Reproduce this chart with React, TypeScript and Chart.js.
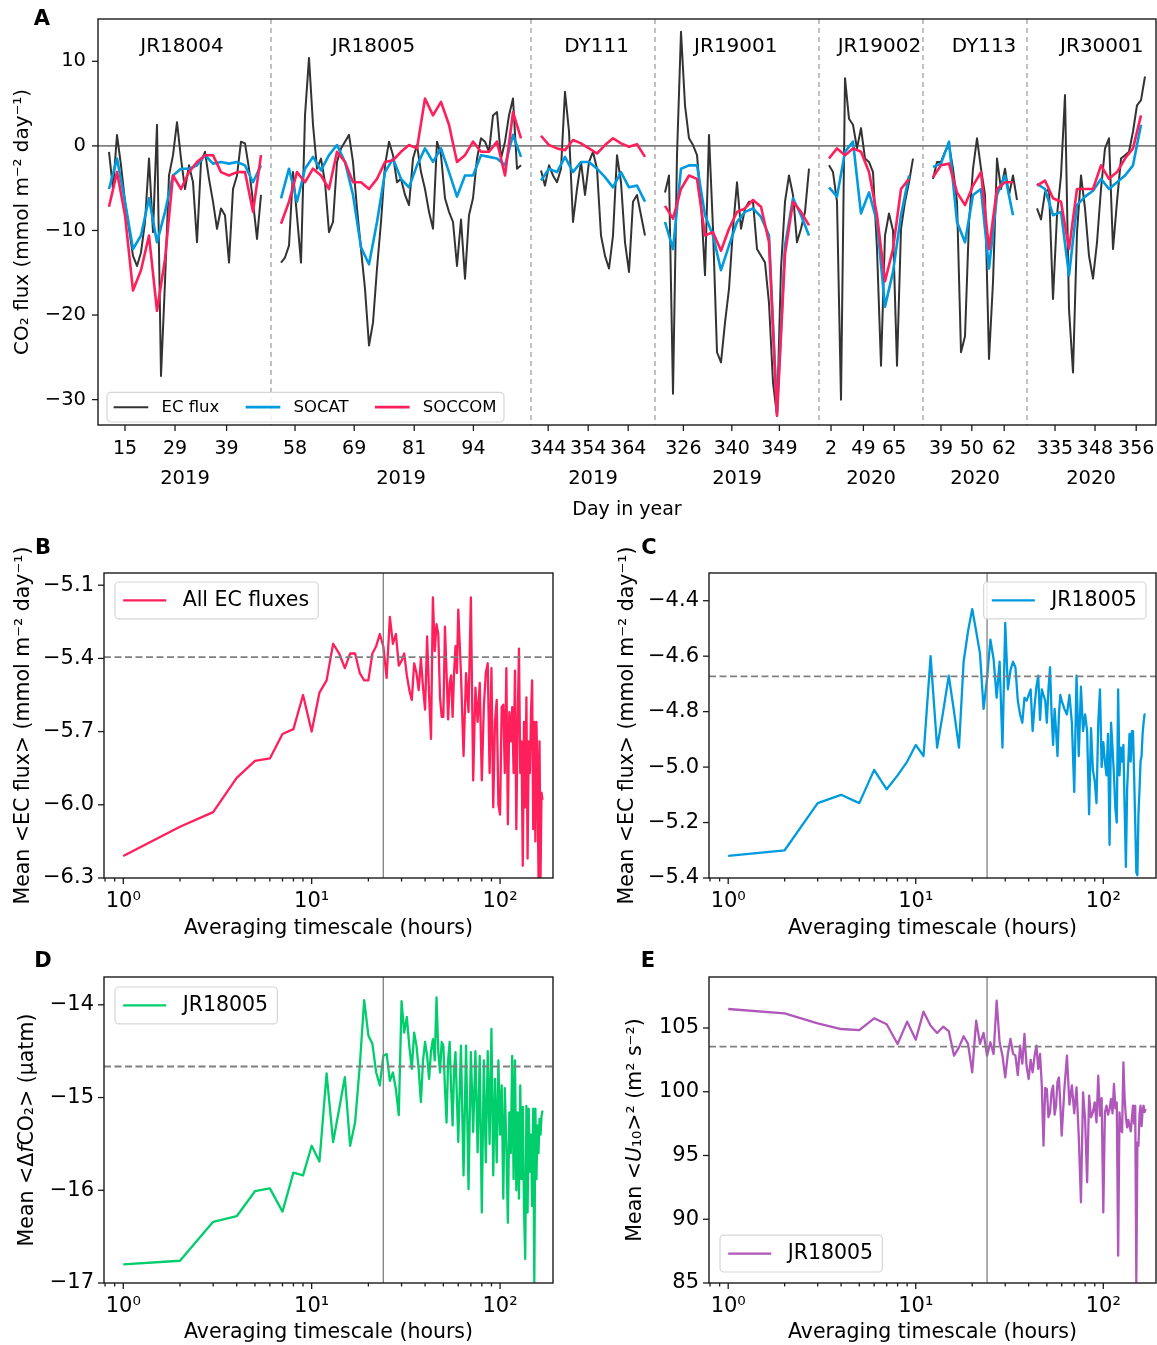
import { useEffect, useRef } from 'react';
import { Chart, registerables } from 'chart.js';

Chart.register(...registerables);
Chart.defaults.font.family = '"DejaVu Sans", sans-serif';
Chart.defaults.color = '#000';

const FAMILY = '"DejaVu Sans", sans-serif';
const INK = '#1a1a1a';
const GREY = '#808080';

// ---------------- Panel A: CO2 flux along each cruise ----------------
const CRUISES = ['JR18004', 'JR18005', 'DY111', 'JR19001', 'JR19002', 'DY113', 'JR30001'];
const CRUISE_YEARS = ['2019', '2019', '2019', '2019', '2020', '2020', '2020'];
// record length of every cruise (samples) and the blank samples between cruises
const CRUISE_LENGTH = [38, 60, 26, 36, 21, 21, 27];
const CRUISE_GAP = 5;
// day-of-year tick labels and the sample they sit on, per cruise
const TICK_DAYS = [[15, 29, 39], [58, 69, 81, 94], [344, 354, 364], [326, 340, 349], [2, 49, 65], [39, 50, 62], [335, 348, 356]];
const TICK_AT = [[4.0, 16.5, 29.4], [3.5, 18.3, 33.3, 48.1], [1.8, 11.8, 21.8], [4.6, 16.7, 28.6], [0.5, 8.6, 16.3], [2.0, 9.7, 17.8], [4.5, 14.5, 24.8]];
const NAME_AT = [18.25, 23.1, 13.9, 17.7, 12.6, 12.75, 16.2];
const NAME_LEVEL = 11.7;

// EC flux, one value per sample
const EC_JR18004 = [-0.7, -5.1, 1.3, -2.3, -6.6, -9.8, -13.0, -14.2, -12.6, -9.0, -1.5, -10.2, 2.5, -27.2, -16.1, -3.5, -1.1, 2.8, -1.5, -5.1, -2.3, -4.3, -11.4, -1.9, -0.7, -3.9, -6.6, -9.8, -7.4, -8.2, -13.8, -5.1, -3.5, 0.5, 0.3, -2.7, -6.6, -11.0, -5.8];
const EC_JR18005 = [-13.8, -13.2, -11.8, -3.1, -8.3, -13.8, 3.6, 10.4, 2.5, -2.7, -1.5, -4.3, -10.2, -9.0, -1.9, -0.3, 0.5, 1.3, -1.9, -7.4, -12.2, -16.9, -23.6, -20.9, -14.5, -9.0, -2.3, 0.5, -1.1, -4.3, -3.9, -5.8, -7.0, -1.5, 0.1, -3.1, -5.1, -7.8, -9.8, 0.5, -1.1, -6.2, -7.8, -9.0, -14.2, -8.7, -15.7, -8.2, -6.2, -1.5, 0.9, 0.5, -0.7, 3.6, 4.0, -1.5, 0.5, 3.6, 5.6, -2.7, -2.3];
const EC_DY111 = [-2.9, -4.7, -2.3, -3.5, -4.3, -2.7, 6.4, 1.7, -9.0, -5.1, -1.9, -5.8, -1.9, -0.7, -2.7, -10.6, -13.0, -14.5, -10.6, -1.1, -4.3, -11.4, -14.9, -6.6, -5.8, -8.2, -10.6];
const EC_JR19001 = [-5.5, -3.5, -29.3, -1.1, 13.5, 4.8, 0.9, 0.1, -1.1, -6.6, -15.3, 1.3, -9.8, -24.4, -25.6, -20.9, -16.9, -9.8, -4.3, -9.8, -7.4, -6.6, -6.6, -12.2, -13.0, -13.8, -18.6, -28.0, -31.9, -14.5, -6.6, -3.5, -5.8, -11.4, -9.8, -7.8, -2.7];
const EC_JR19002 = [-2.3, -3.1, -6.6, -30.0, 8.0, 3.2, 2.5, -0.3, 2.1, -1.5, -1.9, -3.1, -12.2, -26.0, -10.6, -8.0, -10.0, -26.0, -9.8, -6.6, -4.3, -1.5];
const EC_DY113 = [-3.9, -1.9, -1.9, -0.7, 0.1, -2.7, -6.6, -24.4, -22.5, -9.0, -2.7, 0.9, -2.7, -5.8, -25.2, -16.1, -1.5, -5.1, -2.7, -5.8, -3.5, -6.4];
const EC_JR30001 = [-7.4, -8.7, -5.5, -5.1, -18.1, -8.2, -3.5, 6.0, -19.3, -26.8, -10.2, -3.5, -7.4, -13.0, -15.7, -11.4, -5.1, -0.3, 0.9, -12.2, -6.6, -1.5, -1.1, -0.7, 1.7, 4.8, 5.4, 8.2];

// SOCAT and SOCCOM based fluxes, one value every second sample
const SOCAT_JR18004 = [-5.1, -1.5, -6.6, -12.2, -10.6, -6.2, -11.4, -7.8, -3.5, -2.7, -2.7, -2.3, -1.1, -2.1, -1.9, -2.1, -1.9, -2.3, -4.3, -2.3];
const SOCAT_JR18005 = [-6.2, -2.7, -6.6, -2.7, -1.3, -2.9, -1.1, 0.1, -1.9, -5.8, -12.0, -14.0, -9.0, -3.1, -1.5, -3.9, -4.9, -2.3, -0.3, -1.9, -0.3, -3.1, -6.0, -3.5, -3.5, -1.1, -1.3, -1.5, -2.3, 1.3, -1.3];
const SOCAT_DY111 = [-4.1, -2.7, -3.1, -1.3, -3.1, -1.9, -1.9, -2.7, -3.7, -4.9, -3.1, -4.9, -4.7, -6.6];
const SOCAT_JR19001 = [-9.0, -12.2, -2.7, -2.3, -2.3, -8.2, -10.6, -14.7, -11.8, -9.0, -7.8, -7.4, -8.4, -10.6, -31.5, -11.8, -6.2, -8.2, -10.6];
const SOCAT_JR19002 = [-4.9, -6.0, -0.7, 0.5, -8.0, -5.5, -9.0, -19.0, -14.9, -8.2, -3.5];
const SOCAT_DY113 = [-2.5, -2.1, 0.5, -9.0, -11.4, -5.8, -5.1, -14.5, -5.8, -3.5, -8.2];
const SOCAT_JR30001 = [-4.5, -5.1, -8.2, -7.8, -15.3, -7.0, -6.0, -5.3, -3.9, -5.1, -4.3, -3.5, -2.3, 2.5];

const SOCCOM_JR18004 = [-7.2, -3.1, -8.2, -17.1, -14.7, -10.6, -19.5, -13.4, -3.5, -5.1, -3.1, -1.9, -1.1, -1.1, -3.1, -3.5, -3.1, -3.1, -7.8, -1.1];
const SOCCOM_JR18005 = [-9.2, -6.6, -3.1, -4.3, -2.7, -3.5, -5.1, -0.7, -1.9, -4.3, -4.3, -5.1, -3.9, -1.9, -1.7, -0.7, 0.1, -0.3, 5.6, 3.6, 5.2, 2.5, -1.9, -1.1, 0.5, -0.7, -0.7, 0.5, -3.5, 4.0, 0.9];
const SOCCOM_DY111 = [1.2, 0.1, -0.3, -0.5, 0.7, 0.3, -0.3, -0.9, 0.1, 0.9, 0.3, -0.1, 0.2, -1.3];
const SOCCOM_JR19001 = [-7.1, -8.6, -5.1, -3.5, -3.9, -10.6, -10.2, -12.4, -9.8, -7.8, -7.4, -6.4, -7.2, -11.4, -31.9, -12.8, -6.6, -7.8, -9.4];
const SOCCOM_JR19002 = [-1.5, -0.3, -1.1, -0.3, -0.7, -3.1, -8.2, -16.0, -12.2, -5.1, -3.9];
const SOCCOM_DY113 = [-3.7, -2.3, -2.1, -5.5, -7.0, -4.7, -3.1, -12.2, -5.1, -4.3, -4.3];
const SOCCOM_JR30001 = [-4.7, -4.1, -6.2, -6.6, -12.2, -5.1, -5.1, -5.1, -2.3, -3.9, -3.1, -1.5, -0.3, 3.6];

const EC_FLUX = [EC_JR18004, EC_JR18005, EC_DY111, EC_JR19001, EC_JR19002, EC_DY113, EC_JR30001];
const SOCAT = [SOCAT_JR18004, SOCAT_JR18005, SOCAT_DY111, SOCAT_JR19001, SOCAT_JR19002, SOCAT_DY113, SOCAT_JR30001];
const SOCCOM = [SOCCOM_JR18004, SOCCOM_JR18005, SOCCOM_DY111, SOCCOM_JR19001, SOCCOM_JR19002, SOCCOM_DY113, SOCCOM_JR30001];
const FLUX_TICKS = [-30, -20, -10, 0, 10];

// ---------------- Panels B-E: mean versus averaging timescale ----------------
const HOURS = [1, 2, 3, 4, 5, 6, 7, 8, 9, 10, 11, 12, 13, 14, 15, 16, 17, 18, 19, 20, 21, 22, 23, 24, 25, 26, 27, 28, 29, 30,
  31, 32, 33, 34, 35, 36, 37, 38, 39, 40, 41, 42, 43, 44, 45, 46, 47, 48, 49, 50, 51, 52, 53, 54, 55, 56, 57, 58, 59, 60,
  62, 64, 66, 68, 70, 72, 74, 76, 78, 80, 82, 84, 86, 88, 90, 92, 94, 96, 98, 100,
  102, 104, 106, 108, 110, 112, 114, 116, 118, 120, 122, 124, 126, 128, 130, 132, 134, 136, 138, 140,
  142, 144, 146, 148, 150, 152, 154, 156, 158, 160, 162, 164, 166, 168];

const MEAN_EC_ALL = [-6.21, -6.09, -6.03, -5.89, -5.82, -5.81, -5.71, -5.69, -5.55, -5.70, -5.54, -5.49, -5.34, -5.38, -5.44, -5.38, -5.38, -5.46, -5.49, -5.49, -5.38, -5.35, -5.30, -5.35, -5.48, -5.23, -5.34, -5.30, -5.43, -5.41,
  -5.38, -5.47, -5.53, -5.57, -5.42, -5.46, -5.53, -5.40, -5.52, -5.61, -5.31, -5.55, -5.73, -5.15, -5.37, -5.26, -5.30, -5.56, -5.64, -5.64, -5.27, -5.46, -5.65, -5.50, -5.47, -5.64, -5.46, -5.35, -5.46, -5.20,
  -5.46, -5.80, -5.46, -5.62, -5.15, -5.90, -5.52, -5.66, -5.50, -5.90, -5.60, -5.46, -5.42, -5.87, -5.44, -6.01, -5.66, -5.57, -6.00, -6.04,
  -5.60, -5.59, -5.87, -5.44, -6.08, -5.62, -5.74, -5.60, -5.87, -5.45, -6.10, -5.66, -5.36, -5.87, -5.74, -6.25, -5.66, -6.01, -5.56, -6.22,
  -5.74, -5.87, -5.62, -5.49, -6.10, -5.66, -6.15, -5.66, -5.87, -6.30, -5.74, -6.30, -5.95, -5.98];
const MEAN_EC_JR18005 = [-5.32, -5.30, -5.13, -5.10, -5.13, -5.01, -5.08, -5.03, -4.98, -4.92, -4.96, -4.60, -4.93, -4.80, -4.67, -4.80, -4.93, -4.62, -4.51, -4.43, -4.51, -4.59, -4.79, -4.68, -4.54, -4.61, -4.75, -4.62, -4.93, -4.48,
  -4.72, -4.65, -4.62, -4.64, -4.76, -4.81, -4.84, -4.75, -4.76, -4.74, -4.72, -4.87, -4.78, -4.71, -4.67, -4.83, -4.72, -4.74, -4.76, -4.84, -4.72, -4.64, -4.81, -4.92, -4.79, -4.87, -4.96, -4.81, -4.74, -4.76,
  -4.79, -4.81, -4.74, -4.84, -5.09, -4.67, -4.96, -4.71, -4.87, -4.81, -4.87, -5.17, -4.86, -5.01, -5.05, -5.13, -4.84, -4.72, -5.00, -4.91,
  -4.98, -5.03, -4.88, -5.28, -4.84, -4.93, -5.03, -5.15, -5.20, -4.72, -5.03, -4.93, -4.98, -4.92, -5.15, -5.36, -5.08, -4.98, -4.88, -4.98,
  -4.87, -4.87, -5.03, -5.20, -5.38, -5.39, -5.17, -5.08, -4.98, -4.96, -4.88, -4.84, -4.81, -4.81];
const MEAN_DFCO2_JR18005 = [-16.80, -16.76, -16.34, -16.28, -16.01, -15.98, -16.23, -15.81, -15.84, -15.52, -15.69, -14.74, -15.48, -15.12, -14.78, -15.52, -15.27, -14.66, -13.95, -14.33, -14.42, -14.73, -14.87, -14.55, -14.53, -14.82, -14.73, -14.91, -15.19, -13.96,
  -14.30, -14.13, -14.45, -14.69, -14.30, -14.44, -14.70, -15.05, -14.60, -14.40, -14.55, -14.80, -14.50, -14.37, -14.60, -13.92, -14.50, -14.73, -14.40, -14.44, -14.90, -15.27, -14.60, -14.40, -14.90, -15.30, -14.70, -14.51, -15.00, -15.48,
  -14.44, -15.84, -14.44, -15.99, -14.51, -15.37, -14.50, -15.59, -14.55, -16.24, -14.60, -15.70, -14.50, -15.50, -14.26, -15.84, -14.80, -15.70, -14.60, -15.40,
  -14.87, -16.09, -14.90, -15.50, -16.35, -15.16, -15.60, -14.55, -15.88, -14.60, -16.00, -15.16, -16.09, -14.87, -15.88, -15.10, -16.20, -16.74, -15.09, -16.24,
  -15.12, -15.80, -15.40, -16.17, -15.12, -16.99, -15.12, -15.88, -15.30, -15.60, -15.23, -15.40, -15.20, -15.14];
const MEAN_U10SQ_JR18005 = [106.49, 106.15, 105.37, 104.92, 104.84, 105.76, 105.29, 103.75, 105.50, 104.08, 106.28, 105.18, 104.61, 105.10, 104.76, 102.83, 103.48, 104.35, 103.75, 101.52, 105.58, 103.75, 104.61, 102.83, 103.88, 102.96, 107.14, 103.88, 102.83, 101.13,
  103.0, 104.14, 103.0, 102.83, 101.3, 103.61, 102.2, 104.53, 102.0, 101.00, 102.5, 101.52, 102.8, 103.61, 101.8, 102.96, 100.5, 95.77, 100.3, 100.22, 98.0, 98.39, 100.0, 100.48, 98.2, 98.91, 100.8, 101.13, 99.0, 96.56,
  100.2, 102.83, 99.0, 100.5, 98.3, 100.35, 96.5, 91.33, 99.95, 97.8, 92.90, 99.69, 98.0, 98.39, 99.17, 97.6, 101.26, 98.12, 99.5, 90.54,
  98.4, 98.91, 98.2, 98.65, 99.43, 98.3, 100.61, 98.7, 99.17, 87.14, 98.39, 97.0, 96.82, 102.31, 99.43, 98.0, 97.21, 97.8, 97.34, 96.9,
  97.86, 98.91, 97.5, 98.90, 85.05, 96.00, 95.77, 98.2, 98.91, 97.3, 98.52, 98.90, 98.40, 98.65];

const OVERALL_EC_ALL = -5.395;
const OVERALL_EC_JR18005 = -4.673;
const OVERALL_DFCO2_JR18005 = -14.665;
const OVERALL_U10SQ_JR18005 = 103.54;
const ONE_DAY = 24;

const LOG_TICKS = [0.8, 0.9, 1, 2, 3, 4, 5, 6, 7, 8, 9, 10, 20, 30, 40, 50, 60, 70, 80, 90, 100];
const TICKS_B = [-6.3, -6.0, -5.7, -5.4, -5.1];
const TICKS_C = [-5.4, -5.2, -5.0, -4.8, -4.6, -4.4];
const TICKS_D = [-17, -16, -15, -14];
const TICKS_E = [85, 90, 95, 100, 105];

const SUP = ['\u2070', '\u00b9', '\u00b2', '\u00b3'];

const fmt = (v: number, d: number) => (v < -1e-9 ? '\u2212' : '') + Math.abs(v).toFixed(d);
const isDecade = (v: number) => Math.abs(Math.log10(v) - Math.round(Math.log10(v))) < 1e-6;

type Seg = { t: string; italic?: boolean };
type LegendItem = { label: string; color: string; width: number };
interface Decor {
  letter: { text: string; x: number; y: number };
  yTitle: { segs: Seg[]; x: number; size: number };
  legend: { items: LegendItem[]; size: number; anchor: string; dx: number; dy: number };
  zeroLine?: boolean;
  separators?: number[];
  vline?: number;
  hline?: number;
  names?: { text: string; x: number; y: number }[];
  nameSize?: number;
  years?: { text: string; x: number }[];
  yearOffset?: number;
  yearSize?: number;
}

function roundRect(ctx: CanvasRenderingContext2D, x: number, y: number, w: number, h: number, r: number) {
  ctx.beginPath();
  ctx.moveTo(x + r, y);
  ctx.lineTo(x + w - r, y);
  ctx.arcTo(x + w, y, x + w, y + r, r);
  ctx.lineTo(x + w, y + h - r);
  ctx.arcTo(x + w, y + h, x + w - r, y + h, r);
  ctx.lineTo(x + r, y + h);
  ctx.arcTo(x, y + h, x, y + h - r, r);
  ctx.lineTo(x, y + r);
  ctx.arcTo(x, y, x + r, y, r);
  ctx.closePath();
}

function seg(ctx: CanvasRenderingContext2D, x1: number, y1: number, x2: number, y2: number) {
  ctx.beginPath();
  ctx.moveTo(x1, y1);
  ctx.lineTo(x2, y2);
  ctx.stroke();
}

function decorPlugin(d: Decor) {
  return {
    id: 'decor',
    beforeDatasetsDraw(chart: any) {
      const { ctx, chartArea: a, scales } = chart;
      ctx.save();
      if (d.separators) {
        ctx.strokeStyle = '#a0a0a0';
        ctx.lineWidth = 1.3;
        ctx.setLineDash([5, 4]);
        for (const s of d.separators) {
          const px = scales.x.getPixelForValue(s);
          seg(ctx, px, a.top, px, a.bottom);
        }
        ctx.setLineDash([]);
      }
      if (d.zeroLine) {
        const py = scales.y.getPixelForValue(0);
        ctx.strokeStyle = GREY;
        ctx.lineWidth = 1.6;
        seg(ctx, a.left, py, a.right, py);
      }
      ctx.restore();
    },
    afterDatasetsDraw(chart: any) {
      const { ctx, chartArea: a, scales } = chart;
      ctx.save();
      if (d.vline !== undefined) {
        const px = scales.x.getPixelForValue(d.vline);
        ctx.strokeStyle = GREY;
        ctx.lineWidth = 1.3;
        seg(ctx, px, a.top, px, a.bottom);
      }
      if (d.hline !== undefined) {
        const py = scales.y.getPixelForValue(d.hline);
        ctx.strokeStyle = GREY;
        ctx.lineWidth = 1.8;
        ctx.setLineDash([7, 3.5]);
        seg(ctx, a.left, py, a.right, py);
        ctx.setLineDash([]);
      }
      ctx.restore();
    },
    afterDraw(chart: any) {
      const { ctx, chartArea: a, scales } = chart;
      ctx.save();
      // tick marks, outward, matplotlib style
      ctx.strokeStyle = INK;
      ctx.lineWidth = 1.3;
      const xs = scales.x;
      for (const t of xs.ticks) {
        const px = xs.getPixelForValue(t.value);
        if (px < a.left - 0.5 || px > a.right + 0.5) continue;
        const len = xs.type === 'logarithmic' && !isDecade(t.value) ? 3.5 : 6;
        seg(ctx, px, a.bottom, px, a.bottom + len);
      }
      const ys = scales.y;
      for (const t of ys.ticks) {
        const py = ys.getPixelForValue(t.value);
        if (py < a.top - 0.5 || py > a.bottom + 0.5) continue;
        seg(ctx, a.left, py, a.left - 6, py);
      }
      // frame
      ctx.lineWidth = 1.4;
      ctx.strokeRect(a.left, a.top, a.right - a.left, a.bottom - a.top);

      // cruise names and years
      ctx.fillStyle = '#000';
      ctx.textAlign = 'center';
      ctx.textBaseline = 'middle';
      if (d.names) {
        ctx.font = `${d.nameSize}px ${FAMILY}`;
        for (const n of d.names) ctx.fillText(n.text, xs.getPixelForValue(n.x), ys.getPixelForValue(n.y));
      }
      if (d.years) {
        ctx.font = `${d.yearSize}px ${FAMILY}`;
        for (const y of d.years) ctx.fillText(y.text, xs.getPixelForValue(y.x), a.bottom + (d.yearOffset || 0));
      }

      // legend
      const lg = d.legend;
      const s = lg.size;
      ctx.font = `${s}px ${FAMILY}`;
      const padL = 0.4 * s, padR = 0.45 * s, handle = 2.1 * s, gap = 0.8 * s, colGap = 1.6 * s, h = 1.8 * s;
      const tw = lg.items.map((it) => ctx.measureText(it.label).width);
      const w = padL + padR + tw.reduce((acc, v) => acc + v + handle + gap, 0) + colGap * (lg.items.length - 1);
      const x0 = lg.anchor.includes('left') ? a.left + lg.dx : a.right - lg.dx - w;
      const y0 = lg.anchor.includes('upper') ? a.top + lg.dy : a.bottom - lg.dy - h;
      roundRect(ctx, x0, y0, w, h, 4);
      ctx.fillStyle = 'rgba(255,255,255,0.85)';
      ctx.fill();
      ctx.strokeStyle = '#d6d6d6';
      ctx.lineWidth = 1.2;
      ctx.stroke();
      let cx = x0 + padL;
      const cy = y0 + h / 2;
      ctx.textAlign = 'left';
      lg.items.forEach((it, i) => {
        ctx.strokeStyle = it.color;
        ctx.lineWidth = it.width;
        seg(ctx, cx, cy, cx + handle, cy);
        ctx.fillStyle = '#000';
        ctx.fillText(it.label, cx + handle + gap, cy + 0.5);
        cx += handle + gap + tw[i] + colGap;
      });

      // rotated y title with italic pieces
      const yt = d.yTitle;
      const parts = yt.segs.map((p) => ({ ...p, font: `${p.italic ? 'italic ' : ''}${yt.size}px ${FAMILY}` }));
      const widths = parts.map((p) => { ctx.font = p.font; return ctx.measureText(p.t).width; });
      const total = widths.reduce((acc, v) => acc + v, 0);
      ctx.translate(yt.x, (a.top + a.bottom) / 2);
      ctx.rotate(-Math.PI / 2);
      let tx = -total / 2;
      ctx.fillStyle = '#000';
      parts.forEach((p, i) => {
        ctx.font = p.font;
        ctx.fillText(p.t, tx, 0);
        tx += widths[i];
      });
      ctx.setTransform(1, 0, 0, 1, 0, 0);
      ctx.restore();

      // panel letter
      ctx.save();
      ctx.font = `bold 21px ${FAMILY}`;
      ctx.fillStyle = '#000';
      ctx.textAlign = 'center';
      ctx.textBaseline = 'middle';
      ctx.fillText(d.letter.text, d.letter.x, d.letter.y);
      ctx.restore();
    },
  };
}

interface Box { left: number; top: number; width: number; height: number; plotL: number; plotT: number; plotR: number; plotB: number }
const BOX_A: Box = { left: 0, top: 0, width: 1157, height: 530, plotL: 98, plotT: 19, plotR: 1156, plotB: 425 };
const BOX_B: Box = { left: 0, top: 530, width: 578, height: 415, plotL: 104, plotT: 43, plotR: 553, plotB: 348 };
const BOX_C: Box = { left: 578, top: 530, width: 579, height: 415, plotL: 131, plotT: 43, plotR: 578, plotB: 348 };
const BOX_D: Box = { left: 0, top: 945, width: 578, height: 400, plotL: 104, plotT: 32, plotR: 553, plotB: 338 };
const BOX_E: Box = { left: 578, top: 945, width: 579, height: 400, plotL: 131, plotT: 32, plotR: 578, plotB: 338 };

function baseOptions(box: Box) {
  return {
    responsive: false,
    animation: false as const,
    events: [],
    layout: { autoPadding: false, padding: { left: 0, top: box.plotT, right: box.width - box.plotR, bottom: 0 } },
    plugins: { legend: { display: false }, tooltip: { enabled: false } },
  };
}

function cruiseStarts() {
  const starts: number[] = [];
  let at = 0;
  CRUISE_LENGTH.forEach((len) => { starts.push(at); at += len + CRUISE_GAP; });
  return starts;
}

function cruiseSeries(perCruise: number[][], step: number, starts: number[]) {
  const pts: { x: number; y: number | null }[] = [];
  perCruise.forEach((vals, k) => {
    vals.forEach((v, i) => pts.push({ x: starts[k] + i * step, y: v }));
    pts.push({ x: starts[k] + CRUISE_LENGTH[k] + CRUISE_GAP / 2, y: null });
  });
  return pts;
}

function fluxConfig() {
  const box = BOX_A;
  const starts = cruiseStarts();
  const tickPos = TICK_AT.flatMap((arr, k) => arr.map((v) => starts[k] + v));
  const tickLab = TICK_DAYS.flat().map(String);
  const last = starts.length - 1;
  const xMin = -2.75;
  const xMax = starts[last] + CRUISE_LENGTH[last] + 2.75;
  const lineOpts = { pointRadius: 0, tension: 0, borderJoinStyle: 'round' as const, spanGaps: false };
  const decor: Decor = {
    letter: { text: 'A', x: 42, y: 20 },
    yTitle: { segs: [{ t: 'CO\u2082 flux (mmol m\u207b\u00b2 day\u207b\u00b9)' }], x: 23, size: 20 },
    legend: {
      items: [
        { label: 'EC flux', color: '#333333', width: 2 },
        { label: 'SOCAT', color: '#009ade', width: 2.6 },
        { label: 'SOCCOM', color: '#ff1f5b', width: 2.6 },
      ],
      size: 16.5, anchor: 'lower left', dx: 9, dy: 3,
    },
    zeroLine: true,
    separators: starts.slice(1).map((s) => s - CRUISE_GAP / 2),
    names: CRUISES.map((c, k) => ({ text: c, x: starts[k] + NAME_AT[k], y: NAME_LEVEL })),
    nameSize: 20,
    years: CRUISE_YEARS.map((y, k) => ({ text: y, x: starts[k] + CRUISE_LENGTH[k] / 2 })),
    yearOffset: 54,
    yearSize: 19.5,
  };
  return {
    type: 'line' as const,
    data: {
      datasets: [
        { label: 'EC flux', data: cruiseSeries(EC_FLUX, 1, starts), borderColor: '#333333', borderWidth: 2, order: 2, ...lineOpts },
        { label: 'SOCAT', data: cruiseSeries(SOCAT, 2, starts), borderColor: '#009ade', borderWidth: 2.6, order: 1, ...lineOpts },
        { label: 'SOCCOM', data: cruiseSeries(SOCCOM, 2, starts), borderColor: '#ff1f5b', borderWidth: 2.6, order: 0, ...lineOpts },
      ],
    },
    options: {
      ...baseOptions(box),
      scales: {
        x: {
          type: 'linear' as const,
          min: xMin,
          max: xMax,
          bounds: 'data' as const,
          grid: { display: false, drawTicks: false, tickLength: 0 },
          border: { display: false },
          ticks: { autoSkip: false, maxRotation: 0, padding: 12.5, font: { size: 19 }, color: '#000', callback: (_v: number, i: number) => tickLab[i] },
          afterBuildTicks: (s: any) => { s.ticks = tickPos.map((v) => ({ value: v })); },
          afterFit: (s: any) => { s.height = box.height - box.plotB; s.paddingLeft = 0; s.paddingRight = 0; },
          title: { display: true, text: 'Day in year', font: { size: 19 }, color: '#000', padding: { top: 0, bottom: 9 } },
        },
        y: {
          type: 'linear' as const,
          min: -33,
          max: 15,
          bounds: 'data' as const,
          grid: { display: false, drawTicks: false, tickLength: 0 },
          border: { display: false },
          ticks: { padding: 12, font: { size: 19.5 }, color: '#000', callback: (v: number) => fmt(v, 0) },
          afterBuildTicks: (s: any) => { s.ticks = FLUX_TICKS.map((v) => ({ value: v })); },
          afterFit: (s: any) => { s.width = box.plotL; s.paddingTop = 0; s.paddingBottom = 0; },
        },
      },
    },
    plugins: [decorPlugin(decor)],
  };
}

interface Lower {
  box: Box;
  values: number[];
  color: string;
  label: string;
  yMin: number;
  yMax: number;
  yTicks: number[];
  decimals: number;
  overall: number;
  letter: { text: string; x: number; y: number };
  yTitle: { segs: Seg[]; x: number; size: number };
  legendAnchor: string;
  legendDx: number;
  legendDy: number;
  xTitlePad: number;
}

function timescaleConfig(p: Lower) {
  const box = p.box;
  const decor: Decor = {
    letter: p.letter,
    yTitle: p.yTitle,
    legend: { items: [{ label: p.label, color: p.color, width: 2.3 }], size: 20.5, anchor: p.legendAnchor, dx: p.legendDx, dy: p.legendDy },
    vline: ONE_DAY,
    hline: p.overall,
  };
  return {
    type: 'line' as const,
    data: {
      datasets: [{
        label: p.label,
        data: HOURS.map((h, i) => ({ x: h, y: p.values[i] })),
        borderColor: p.color,
        borderWidth: 2.3,
        pointRadius: 0,
        tension: 0,
        borderJoinStyle: 'round' as const,
      }],
    },
    options: {
      ...baseOptions(box),
      scales: {
        x: {
          type: 'logarithmic' as const,
          min: 0.79,
          max: 191,
          bounds: 'data' as const,
          grid: { display: false, drawTicks: false, tickLength: 0 },
          border: { display: false },
          ticks: {
            autoSkip: false, maxRotation: 0, padding: 11, font: { size: 21 }, color: '#000',
            callback: (v: number) => (isDecade(v) ? '10' + SUP[Math.round(Math.log10(v))] : ''),
          },
          afterBuildTicks: (s: any) => { s.ticks = LOG_TICKS.map((v) => ({ value: v })); },
          afterFit: (s: any) => { s.height = box.height - box.plotB; s.paddingLeft = 0; s.paddingRight = 0; },
          title: { display: true, text: 'Averaging timescale (hours)', font: { size: 20.5 }, color: '#000', padding: { top: 0, bottom: p.xTitlePad } },
        },
        y: {
          type: 'linear' as const,
          min: p.yMin,
          max: p.yMax,
          bounds: 'data' as const,
          grid: { display: false, drawTicks: false, tickLength: 0 },
          border: { display: false },
          ticks: { padding: 10, font: { size: 21 }, color: '#000', callback: (v: number) => fmt(v, p.decimals) },
          afterBuildTicks: (s: any) => { s.ticks = p.yTicks.map((v) => ({ value: v })); },
          afterFit: (s: any) => { s.width = box.plotL; s.paddingTop = 0; s.paddingBottom = 0; },
        },
      },
    },
    plugins: [decorPlugin(decor)],
  };
}

const EC_TITLE: Seg[] = [{ t: 'Mean <EC flux> (mmol m\u207b\u00b2 day\u207b\u00b9)' }];

const LOWER_PANELS: Lower[] = [
  {
    box: BOX_B, values: MEAN_EC_ALL, color: '#ff1f5b', label: 'All EC fluxes', yMin: -6.3, yMax: -5.05, yTicks: TICKS_B, decimals: 1,
    overall: OVERALL_EC_ALL, letter: { text: 'B', x: 43, y: 19 }, yTitle: { segs: EC_TITLE, x: 24, size: 20.5 },
    legendAnchor: 'upper left', legendDx: 11, legendDy: 9, xTitlePad: 4,
  },
  {
    box: BOX_C, values: MEAN_EC_JR18005, color: '#009ade', label: 'JR18005', yMin: -5.4, yMax: -4.3, yTicks: TICKS_C, decimals: 1,
    overall: OVERALL_EC_JR18005, letter: { text: 'C', x: 71, y: 19 }, yTitle: { segs: EC_TITLE, x: 50, size: 20.5 },
    legendAnchor: 'upper right', legendDx: 10, legendDy: 9, xTitlePad: 4,
  },
  {
    box: BOX_D, values: MEAN_DFCO2_JR18005, color: '#00cd6c', label: 'JR18005', yMin: -17, yMax: -13.7, yTicks: TICKS_D, decimals: 0,
    overall: OVERALL_DFCO2_JR18005, letter: { text: 'D', x: 43, y: 17 },
    yTitle: { segs: [{ t: 'Mean <\u0394' }, { t: 'f', italic: true }, { t: 'CO\u2082> (\u00b5atm)' }], x: 28, size: 20.5 },
    legendAnchor: 'upper left', legendDx: 11, legendDy: 10, xTitlePad: 0,
  },
  {
    box: BOX_E, values: MEAN_U10SQ_JR18005, color: '#af58ba', label: 'JR18005', yMin: 85, yMax: 109, yTicks: TICKS_E, decimals: 0,
    overall: OVERALL_U10SQ_JR18005, letter: { text: 'E', x: 70, y: 17 },
    yTitle: { segs: [{ t: 'Mean <' }, { t: 'U', italic: true }, { t: '\u2081\u2080>\u00b2 (m\u00b2 s\u207b\u00b2)' }], x: 58, size: 20.5 },
    legendAnchor: 'lower left', legendDx: 11, legendDy: 11, xTitlePad: 0,
  },
];

function Panel({ box, make }: { box: Box; make: () => any }) {
  const ref = useRef<HTMLCanvasElement>(null);
  useEffect(() => {
    if (!ref.current) return;
    const chart = new Chart(ref.current, make());
    return () => chart.destroy();
  }, [make]);
  return (
    <canvas
      ref={ref}
      width={box.width}
      height={box.height}
      style={{ position: 'absolute', left: box.left, top: box.top, width: box.width, height: box.height }}
    />
  );
}

const makers = [fluxConfig, ...LOWER_PANELS.map((p) => () => timescaleConfig(p))];
const boxes = [BOX_A, ...LOWER_PANELS.map((p) => p.box)];

export default function App() {
  useEffect(() => {
    document.body.style.margin = '0';
    document.body.style.background = '#fff';
  }, []);
  return (
    <div style={{ position: 'absolute', left: 0, top: 0, width: 1157, height: 1345, background: '#fff' }}>
      {makers.map((m, i) => (
        <Panel key={i} box={boxes[i]} make={m} />
      ))}
    </div>
  );
}
